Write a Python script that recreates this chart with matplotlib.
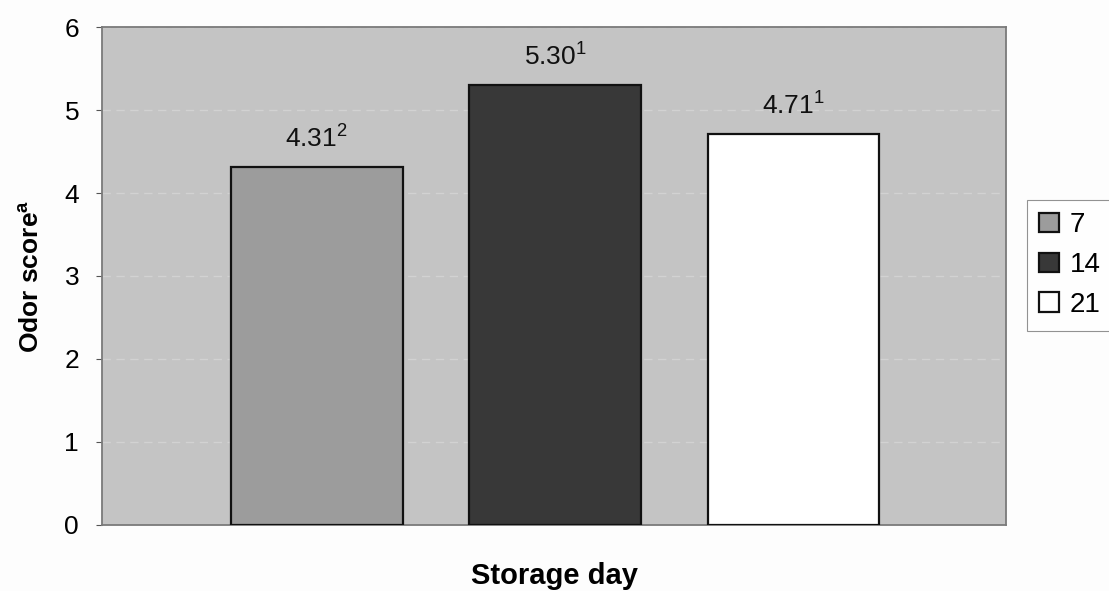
import numpy as np
import matplotlib.pyplot as plt

plt.rcParams['font.family'] = ['Liberation Sans', 'DejaVu Sans']
plt.rcParams['mathtext.fontset'] = 'custom'
plt.rcParams['mathtext.rm'] = 'Liberation Sans'
plt.rcParams['mathtext.bf'] = 'Liberation Sans:bold'

days = ['7', '14', '21']
scores = [4.31, 5.30, 4.71]
letters = ['2', '1', '1']
colors = ['#9c9c9c', '#383838', '#ffffff']

fig = plt.figure(figsize=(11.09, 5.91), dpi=100)
fig.patch.set_facecolor('#fdfdfd')
ax = fig.add_axes([0.092, 0.1117, 0.815, 0.8426])
ax.set_facecolor('#c4c4c4')

x = np.arange(len(days)) - 1
for i in range(len(days)):
    ax.bar(x[i], scores[i], 0.72, color=colors[i], edgecolor='#111111',
           linewidth=1.6, label=days[i], zorder=3)
    ax.text(x[i], scores[i] + 0.25, f'{scores[i]:.2f}$^{{{letters[i]}}}$',
            ha='center', va='baseline', fontsize=19, color='#111111', zorder=4)

ax.set_xlim(-1.9, 1.89)
ax.set_ylim(0, 6)
ax.set_yticks(range(0, 7))
ax.tick_params(axis='y', labelsize=19, length=4.5, color='#555555', pad=12)
ax.set_xticks([])
ax.yaxis.grid(True, color='#d2d2d2', linestyle=(0, (6, 4)), linewidth=1, zorder=0)
for s in ax.spines.values():
    s.set_color('#7a7a7a')
    s.set_linewidth(1.3)

ax.set_ylabel('Odor score$^{\\mathbf{a}}$', fontsize=19, fontweight='bold')
ax.yaxis.set_label_coords(-0.064, 0.5)
fig.text(0.5, 0.012, 'Storage day', ha='center', va='baseline', fontsize=21, fontweight='bold')

leg = fig.legend(loc='upper left', bbox_to_anchor=(0.926, 0.662), fontsize=20,
                 frameon=True, fancybox=False, edgecolor='#777777',
                 handlelength=0.72, handleheight=0.72, handletextpad=0.36,
                 borderpad=0.45, labelspacing=0.5, borderaxespad=0)
leg.get_frame().set_linewidth(0.8)

plt.savefig('out.png', dpi=100)
